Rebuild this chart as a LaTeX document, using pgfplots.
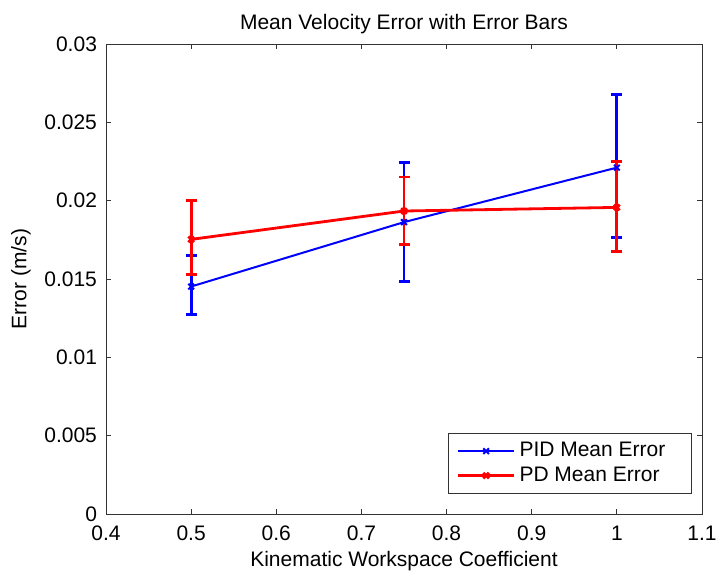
\documentclass[border=0pt]{standalone}
\usepackage{pgfplots}
\pgfplotsset{compat=1.18}
\usepackage{fontspec}
\setmainfont{Liberation Sans}
\begin{document}
\begin{tikzpicture}
\begin{axis}[
  scale only axis,
  width=298pt, height=235pt,
  xmin=0.4, xmax=1.1, ymin=0, ymax=0.03,
  xtick={0.4,0.5,0.6,0.7,0.8,0.9,1,1.1},
  ytick={0,0.005,0.01,0.015,0.02,0.025,0.03},
  scaled y ticks=false,
  yticklabel style={/pgf/number format/fixed,/pgf/number format/precision=3, xshift=-1pt},
  xticklabel style={yshift=-2.5pt},
  /pgf/number format/assume math mode=true,
  tick label style={font=\fontsize{10.5}{12}\selectfont},
  label style={font=\fontsize{10.5}{12}\selectfont},
  title style={font=\fontsize{10.5}{12}\selectfont, yshift=-4.5pt},
  title={Mean Velocity Error with Error Bars},
  xlabel={Kinematic Workspace Coefficient},
  ylabel={Error (m/s)},
  xlabel style={yshift=1.5pt},
  tick align=inside,
  major tick length=2.5pt,
  axis line style={line width=0.5pt, black!80},
  every tick/.style={black!80, line width=0.5pt},
  legend style={at={(0.983,0.043)}, anchor=south east, font=\fontsize{10.5}{12}\selectfont, draw=black!80, line width=0.5pt, inner xsep=4pt, inner ysep=2.5pt, row sep=-0.5pt},
  legend cell align=left,
  legend image code/.code={\draw[#1, mark repeat=2, mark phase=2] plot coordinates {(0pt,0pt) (14pt,0pt) (28pt,0pt)};},
  every error bar/.style={line width=1.4pt},
]
\coordinate (sw) at (rel axis cs:0,0);
\coordinate (ne) at (rel axis cs:1,1);
\addplot[blue, line width=1pt, mark=x, mark size=2pt,
  error bars/.cd, y dir=both, y explicit,
  error bar style={line width=1.4pt},
  error mark options={line width=1.4pt, mark size=2.75pt, rotate=90}]
coordinates {
  (0.5,0.01452)  += (0,0.00198) -= (0,0.00179)
  (0.75,0.01863) += (0,0.00382) -= (0,0.00377)
  (1.0,0.02211)  += (0,0.00465) -= (0,0.00446)
};
\addlegendentry{PID Mean Error\kern7pt}
\addplot[red, line width=1.4pt, mark=x, mark size=2pt,
  error bars/.cd, y dir=both, y explicit,
  error bar style={line width=1.4pt},
  error mark options={line width=1.4pt, mark size=2.75pt, rotate=90}]
coordinates {
  (0.5,0.01753)  += (0,0.00249) -= (0,0.00224)
  (0.75,0.01934) += (0,0.00217) -= (0,0.00215)
  (1.0,0.01957)  += (0,0.00293) -= (0,0.00283)
};
\addlegendentry{PD Mean Error\kern7pt}
\end{axis}
\pgfresetboundingbox
\useasboundingbox ([xshift=-53pt,yshift=-29.5pt]sw) rectangle ([xshift=7.5pt,yshift=22pt]ne);
\end{tikzpicture}
\end{document}
